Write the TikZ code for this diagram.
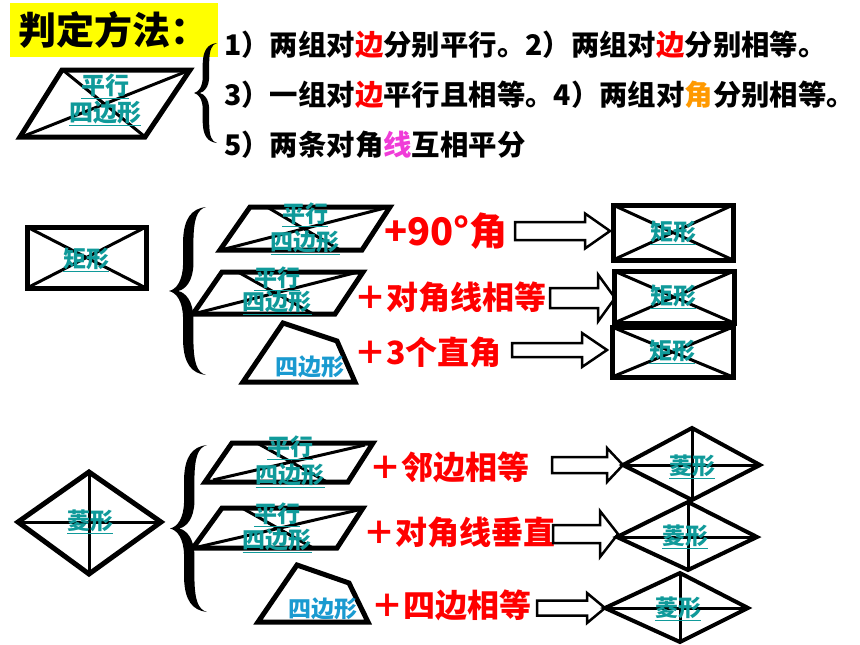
\documentclass[tikz,border=0pt]{standalone}
\usepackage{fontspec}
\newfontfamily\cjk{Noto Sans CJK SC}
\definecolor{tealtxt}{HTML}{109A9A}
\definecolor{bluetxt}{HTML}{1A9AD0}
\definecolor{orangetxt}{HTML}{FF9900}
\definecolor{magtxt}{HTML}{F03CD8}
\definecolor{redtxt}{HTML}{FF0000}
\definecolor{yellowbg}{HTML}{FFFF00}
\newcommand\blockarrow[6]{%
  \draw[barrow] (#1,{#4-#5/2}) -- (#2,{#4-#5/2}) -- (#2,{#4-#6/2}) -- (#3,#4)
    -- (#2,{#4+#6/2}) -- (#2,{#4+#5/2}) -- (#1,{#4+#5/2}) -- cycle;}
\newcommand\curlybrace[4]{%
  \fill[shift={(#1,#2)}, x=#3pt, y=-#4pt]
    (1,0) .. controls (0.6,0.01) and (0.40,0.07) .. (0.38,0.2)
    -- (0.38,0.34) .. controls (0.37,0.44) and (0.2,0.49) .. (0,0.5)
    .. controls (0.2,0.51) and (0.37,0.56) .. (0.38,0.66)
    -- (0.38,0.8) .. controls (0.40,0.93) and (0.6,0.99) .. (1,1)
    .. controls (0.76,0.985) and (0.67,0.93) .. (0.66,0.8)
    -- (0.66,0.66) .. controls (0.65,0.56) and (0.45,0.51) .. (0.25,0.5)
    .. controls (0.45,0.49) and (0.65,0.44) .. (0.66,0.34)
    -- (0.66,0.2) .. controls (0.67,0.07) and (0.76,0.015) .. (1,0) -- cycle;}
\begin{document}
\begin{tikzpicture}[x=1pt,y=-1pt,
  outl/.style={line width=5pt, line join=miter},
  thin outl/.style={line width=4pt, line join=miter},
  diag/.style={line width=3pt},
  lbl/.style={font=\cjk\bfseries\fontsize{23}{27}\selectfont, text=tealtxt, align=center, inner sep=0pt},
  qlbl/.style={font=\cjk\bfseries\fontsize{23}{27}\selectfont, text=bluetxt, inner sep=0pt},
  cond/.style={font=\cjk\bfseries\fontsize{32}{36}\selectfont, text=redtxt, anchor=west, inner sep=0pt},
  rulestxt/.style={font=\cjk\bfseries\fontsize{28.4}{30}\selectfont, anchor=west, inner sep=0pt},
  barrow/.style={draw=black, fill=white, line width=2.5pt, line join=miter},
]
\useasboundingbox (0,0) rectangle (860,645);
% title
\node[fill=yellowbg, anchor=north west, minimum height=54pt, text width=192pt, inner xsep=8pt, align=left,
  font=\cjk\bfseries\fontsize{38}{40}\selectfont] (title) at (10,3) {判定方法：};
% top parallelogram
\draw[outl] (62,70) -- (190,70) -- (145,137) -- (20,137) -- cycle;
\draw[diag] (64,71) -- (144,136) (24,136) -- (185,72);
\node[lbl, font=\cjk\bfseries\fontsize{24}{27}\selectfont] (p0) at (105,100) {\underline{平行}\\\underline{四边形}};
\curlybrace{194}{43}{23}{100}
\node[rulestxt] (r1) at (224,45) {1）两组对{\color{redtxt}边}分别平行。2）两组对{\color{redtxt}边}分别相等。};
\node[rulestxt] (r2) at (224,95) {3）一组对{\color{redtxt}边}平行且相等。4）两组对{\color{orangetxt}角}分别相等。};
\node[rulestxt] (r3) at (224,145) {5）两条对角{\color{magtxt}线}互相平分};

% rectangle section
\draw[outl] (27,227) rectangle (146,288);
\draw[diag] (27,227) -- (146,288) (27,288) -- (146,227);
\node[lbl] (rect0) at (86,260) {\underline{矩形}};
\curlybrace{169}{207}{37}{168}

\draw[outl] (250,207) -- (390,207) -- (362,250) -- (220,250) -- cycle;
\draw[diag] (267,207) -- (340,250) (225,249) -- (385,208);
\node[lbl, font=\cjk\bfseries\fontsize{23}{28}\selectfont] (pA) at (305,229) {\underline{平行}\\\underline{四边形}};
\node[cond, font=\cjk\bfseries\fontsize{38}{40}\selectfont] (cA) at (384,231) {+90°角};
\blockarrow{515}{585}{610}{231}{18}{35}
\draw[outl] (613,205) rectangle (733,260);
\draw[diag] (613,205) -- (733,260) (613,260) -- (733,205);
\node[lbl] (rA) at (673,233) {\underline{矩形}};

\draw[outl] (222,272) -- (363,272) -- (335,314) -- (193,314) -- cycle;
\draw[diag] (238,272) -- (313,314) (197,313) -- (358,272);
\node[lbl, font=\cjk\bfseries\fontsize{23}{24}\selectfont] (pB) at (277,291) {\underline{平行}\\\underline{四边形}};
\node[cond] (cB) at (354,297) {＋对角线相等};
\blockarrow{550}{598}{615}{298}{20}{47}
\draw[outl] (614,271) rectangle (734,323);
\draw[diag] (614,271) -- (734,323) (614,323) -- (734,271);
\node[lbl] (rB) at (673,297) {\underline{矩形}};

\draw[outl] (283,323) -- (337,341) -- (355,382) -- (243,382) -- cycle;
\node[qlbl] (qC) at (310,367) {四边形};
\node[cond] (cC) at (354,352) {＋3个直角};
\blockarrow{512}{582}{607}{350}{14}{34}
\draw[outl] (612,327) rectangle (733,377);
\draw[diag] (612,327) -- (733,377) (612,377) -- (733,327);
\node[lbl] (rC) at (672,352) {\underline{矩形}};

% rhombus section
\draw[outl] (18,522) -- (89,472) -- (161,522) -- (89,574) -- cycle;
\draw[diag] (18,522) -- (161,522) (89,472) -- (89,574);
\node[lbl] (rh0) at (90,522) {\underline{菱形}};
\curlybrace{170}{445}{37}{167}

\draw[outl] (232,443) -- (373,443) -- (348,482) -- (205,482) -- cycle;
\draw[diag] (257,443) -- (327,482) (213,480) -- (365,445);
\node[lbl, font=\cjk\bfseries\fontsize{23}{28}\selectfont] (pD) at (290,462) {\underline{平行}\\\underline{四边形}};
\node[cond] (cD) at (369,467) {＋邻边相等};
\blockarrow{552}{607}{623}{465}{16}{34}
\draw[thin outl] (623,465) -- (692,428) -- (760,465) -- (692,500) -- cycle;
\draw[diag] (623,465) -- (760,465) (692,428) -- (692,500);
\node[lbl] (rhD) at (692,467) {\underline{菱形}};

\draw[outl] (222,508) -- (363,508) -- (337,548) -- (193,548) -- cycle;
\draw[diag] (242,508) -- (313,548) (198,547) -- (358,510);
\node[lbl, font=\cjk\bfseries\fontsize{23}{26}\selectfont] (pE) at (277,528) {\underline{平行}\\\underline{四边形}};
\node[cond] (cE) at (363,532) {＋对角线垂直};
\blockarrow{553}{600}{618}{534}{18}{46}
\draw[thin outl] (617,537) -- (688,502) -- (757,537) -- (688,570) -- cycle;
\draw[diag] (617,537) -- (757,537) (688,502) -- (688,570);
\node[lbl] (rhE) at (685,537) {\underline{菱形}};

\draw[outl] (297,565) -- (349,583) -- (368,622) -- (258,622) -- cycle;
\node[qlbl] (qF) at (323,609) {四边形};
\node[cond] (cF) at (371,605) {＋四边相等};
\blockarrow{537}{587}{605}{608}{15}{30}
\draw[thin outl] (605,608) -- (680,573) -- (748,608) -- (680,642) -- cycle;
\draw[diag] (605,608) -- (748,608) (680,573) -- (680,642);
\node[lbl] (rhF) at (678,609) {\underline{菱形}};
\end{tikzpicture}
\end{document}
